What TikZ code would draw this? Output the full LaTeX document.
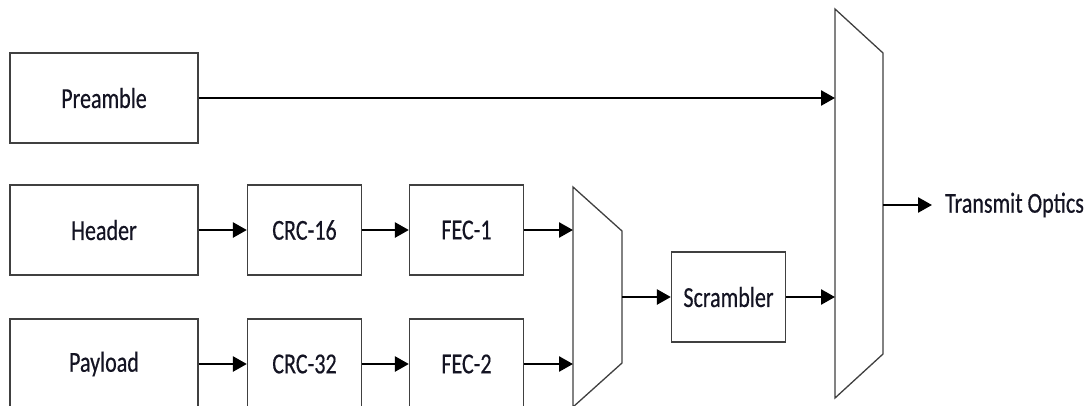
\documentclass[tikz,border=0pt]{standalone}
\usepackage{fontspec}
\setmainfont[FakeStretch=0.76,FakeBold=0.4]{Carlito}
\usetikzlibrary{arrows.meta}
\definecolor{boxline}{HTML}{404040}
\definecolor{txt}{HTML}{141423}
\begin{document}
\begin{tikzpicture}[x=1pt,y=-1pt,
  blk/.style={draw=boxline,line width=1.3pt,fill=white,minimum height=90pt,inner sep=0pt,
    font=\fontsize{29}{31}\selectfont,text=txt},
  wide/.style={blk,minimum width=188pt},
  narrow/.style={blk,minimum width=114pt},
  mux/.style={draw=boxline,line width=1.3pt,fill=white},
  conn/.style={line width=2.6pt,-{Triangle[length=14pt,width=15pt]}}]
\useasboundingbox (0,0) rectangle (1089,405);
\node[wide] (preamble) at (104,98) {Preamble};
\node[wide] (header) at (104,230) {Header};
\node[narrow] (crc16) at (304.5,230) {CRC-16};
\node[narrow] (fec1) at (466.5,230) {FEC-1};
\node[wide] (payload) at (104,364) {Payload};
\node[narrow] (crc32) at (304.5,364) {CRC-32};
\node[narrow] (fec2) at (466.5,364) {FEC-2};
\node[narrow] (scr) at (728.5,297) {Scrambler};
\draw[mux] (573,187) -- (622,231) -- (622,363) -- (573,407) -- cycle;
\draw[mux] (835,9) -- (883,53) -- (883,354) -- (835,398) -- cycle;
\coordinate (m1a) at (573,230);
\coordinate (m1b) at (573,364);
\coordinate (m1o) at (622,297);
\coordinate (m2a) at (835,98);
\coordinate (m2b) at (835,297);
\coordinate (m2o) at (883,205);
\coordinate (outend) at (932,205);
\node[anchor=west,inner sep=0pt,font=\fontsize{29}{31}\selectfont,text=txt] (optics) at (945,205) {Transmit Optics};
\draw[conn] (header) -- (crc16);
\draw[conn] (crc16) -- (fec1);
\draw[conn] (fec1) -- (m1a);
\draw[conn] (payload) -- (crc32);
\draw[conn] (crc32) -- (fec2);
\draw[conn] (fec2) -- (m1b);
\draw[conn] (m1o) -- (scr);
\draw[conn] (scr) -- (m2b);
\draw[conn] (preamble) -- (m2a);
\draw[conn] (m2o) -- (outend);
\end{tikzpicture}
\end{document}
